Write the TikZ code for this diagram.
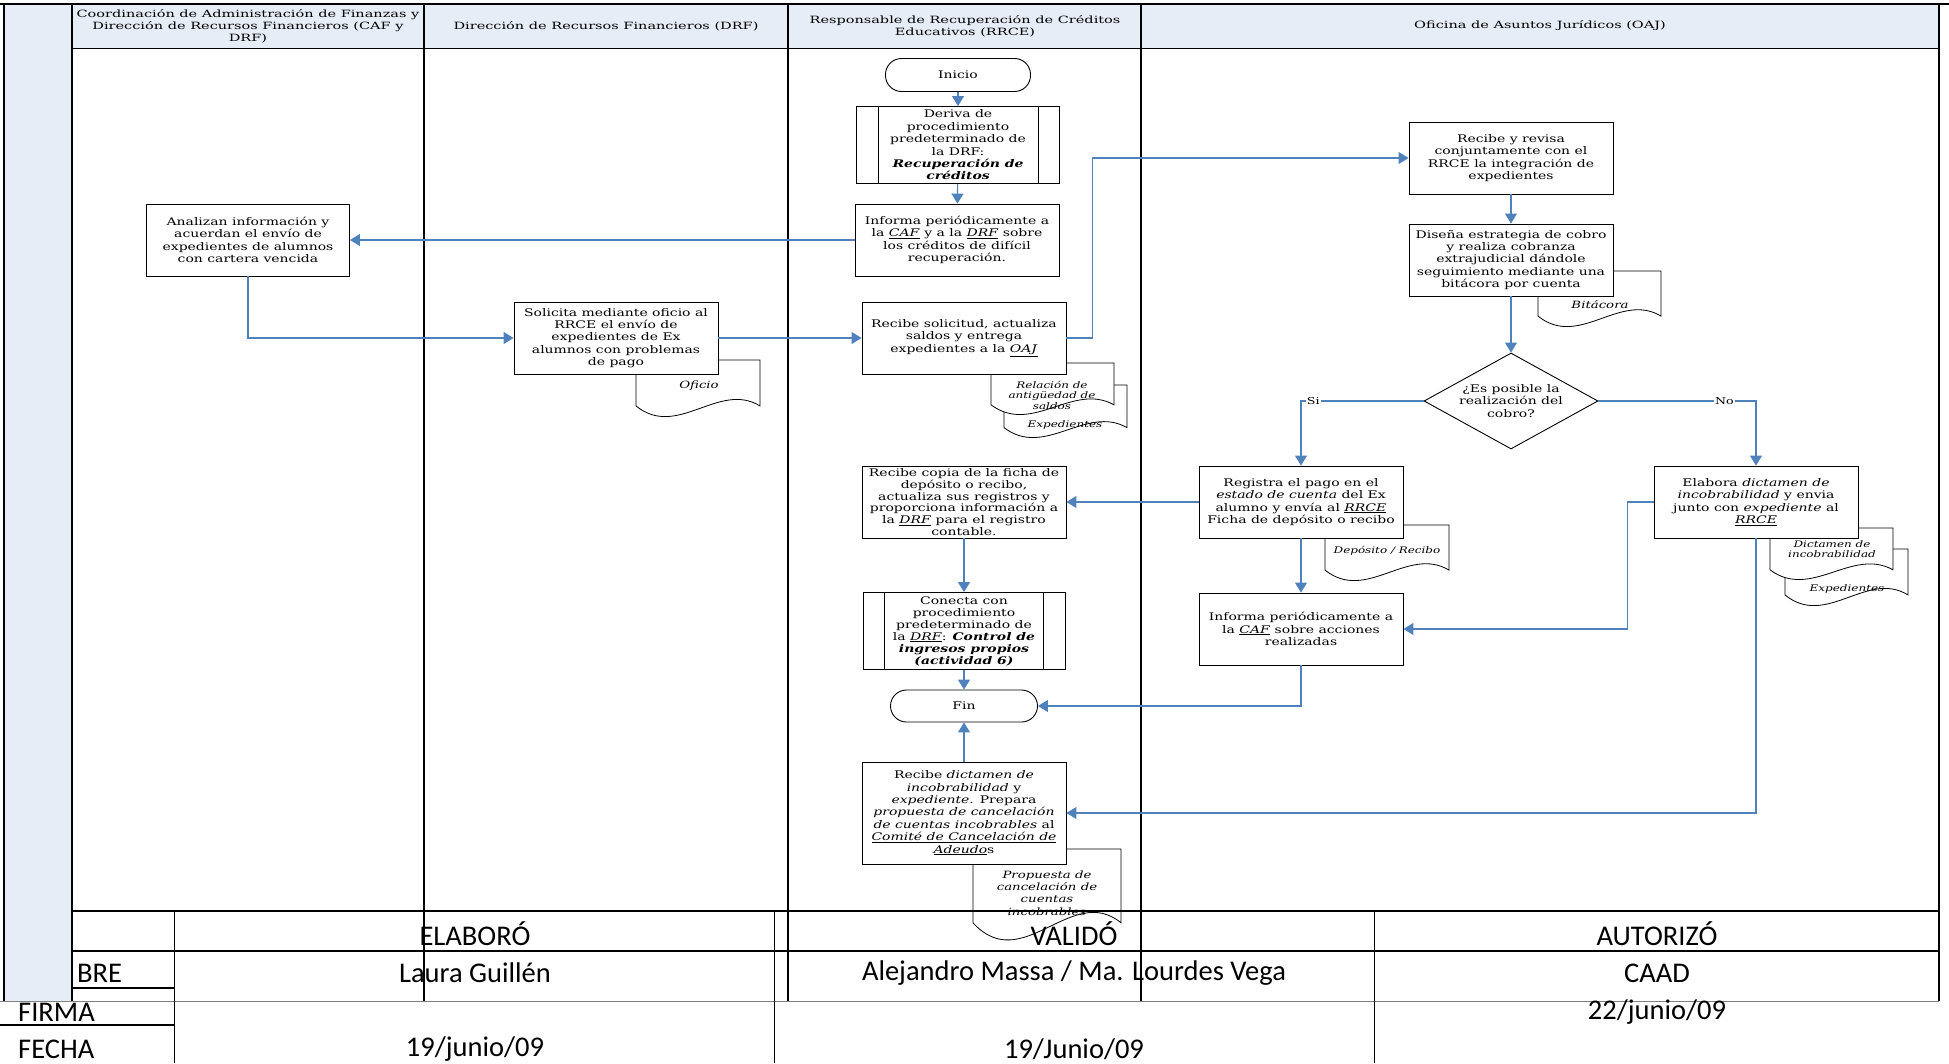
\documentclass[tikz,border=0pt]{standalone}
\usepackage{fontspec}
\usetikzlibrary{arrows.meta,shapes.geometric}
\newfontfamily\boxfont[FakeStretch=1.33]{DejaVu Serif}
\newfontfamily\headfont[FakeStretch=1.45]{DejaVu Serif}
\newfontfamily\signfont{Carlito}
\definecolor{lanefill}{RGB}{230,237,247}
\definecolor{flowblue}{RGB}{79,129,189}

% wavy document sheet: left/top/right/bottom
\newcommand{\docsheet}[4]{%
  \pgfmathsetmacro\docw{#3-#1}%
  \pgfmathsetmacro\doch{#4-#2}%
  \filldraw[docline] (#1,#2) -- (#3,#2) -- (#3,#4-0.18*\doch)
    .. controls (#1+2*\docw/3,#4-0.63*\doch) and (#1+\docw/3,#4+0.42*\doch) .. (#1,#4-0.18*\doch) -- cycle;}

\tikzset{
  laneline/.style={line width=1.4pt},
  lanehead/.style={font=\headfont\fontsize{10}{11.8}\selectfont, align=center},
  proc/.style={draw, line width=0.9pt, fill=white, minimum width=204pt, minimum height=72pt,
    align=center, inner sep=1pt, font=\boxfont\fontsize{10.5}{12.4}\selectfont},
  predef/.style={proc, minimum height=77pt},
  term/.style={proc, rounded corners=16pt, minimum width=145pt, minimum height=33pt},
  decision/.style={proc, diamond, minimum width=174pt, minimum height=96pt, inner xsep=-25pt, inner ysep=-8pt},
  docline/.style={draw=black, fill=white, line width=0.8pt},
  doctext/.style={font=\boxfont\itshape\fontsize{9}{10.5}\selectfont, align=center, inner sep=0pt},
  flow/.style={draw=flowblue, line width=1.1pt, -{Triangle[width=12pt,length=10pt]}},
  lbl/.style={fill=white, inner sep=1pt, font=\boxfont\fontsize{9.5}{10}\selectfont},
  signline/.style={line width=2pt},
  signtext/.style={font=\signfont\fontsize{28.5}{30}\selectfont, inner sep=0pt},
}

\begin{document}
\begin{tikzpicture}[x=1pt,y=-1pt]
  \useasboundingbox (0,0) rectangle (1949,1063);
  % frame and lanes
  \fill[lanefill] (4,4) rectangle (72,1001) (72,4) rectangle (1939,48);
  \draw[line width=2pt] (0,4) -- (1949,4);
  \draw[line width=0.9pt] (72,48) -- (1939,48);
  \draw[laneline] (4,4) -- (4,1001);
  \foreach \x in {72,424,788,1141,1939} {
    \draw[laneline] (\x,4) -- (\x,1001); }
  \foreach \cx/\title [count=\i] in {248/{Coordinación de Administración de Finanzas y\\Dirección de Recursos Financieros (CAF y\\DRF)},
      606/{Dirección de Recursos Financieros (DRF)},
      965/{Responsable de Recuperación de Créditos\\Educativos (RRCE)},
      1540/{Oficina de Asuntos Jurídicos (OAJ)}} {
    \node[lanehead] (head\i) at (\cx,26) {\title};
  }

  % documents (behind the boxes)
  \foreach \xa/\ya/\xb/\yb in {636/360/760/416, 1004/385/1127/437, 991/363/1114/414, 1538/271/1661/326,
      1325/525/1449/580, 1785/549/1908/605, 1770/528/1893/579, 973/849/1121/939} {
    \docsheet{\xa}{\ya}{\xb}{\yb}
  }
  \node[doctext, font=\boxfont\itshape\fontsize{10}{11}\selectfont] (doc-oficio) at (699,386) {Oficio};
  \node[doctext] (doc-saldos) at (1052,395) {Relación de\\antigüedad de\\saldos};
  \node[doctext] (doc-exp1) at (1065,425) {Expedientes};
  \node[doctext, font=\boxfont\itshape\fontsize{10}{11}\selectfont] (doc-bitacora) at (1600,305) {Bitácora};
  \node[doctext] (doc-deposito) at (1387,551) {Depósito / Recibo};
  \node[doctext] (doc-dictamen) at (1832,549) {Dictamen de\\incobrabilidad};
  \node[doctext] (doc-exp2) at (1847,589) {Expedientes};
  \node[doctext, font=\boxfont\itshape\fontsize{10}{12.4}\selectfont] (doc-propuesta) at (1047,893) {Propuesta de\\cancelación de\\cuentas\\incobrables};

  % activities
  \node[term] (ini) at (958,75) {Inicio};
  \node[predef, minimum width=203pt] (der) at (958,145) {Deriva de\\procedimiento\\predeterminado de\\la DRF:\\\textbf{\textit{Recuperación de}}\\\textbf{\textit{créditos}}};
  \draw[line width=0.9pt] ([xshift=22pt]der.north west) -- ([xshift=22pt]der.south west)
    ([xshift=-22pt]der.north east) -- ([xshift=-22pt]der.south east);
  \node[proc] (inf) at (957,240) {Informa periódicamente a\\la \underline{\textit{CAF}} y a la \underline{\textit{DRF}} sobre\\los créditos de difícil\\recuperación.};
  \node[proc, minimum width=203pt] (ana) at (248,240) {Analizan información y\\acuerdan el envío de\\expedientes de alumnos\\con cartera vencida};
  \node[proc] (sol) at (616,338) {Solicita mediante oficio al\\RRCE el envío de\\expedientes de Ex\\alumnos con problemas\\de pago};
  \node[proc] (rec) at (964,338) {Recibe solicitud, actualiza\\saldos y entrega\\expedientes a la \underline{\textit{OAJ}}};
  \node[proc] (rev) at (1511,158) {Recibe y revisa\\conjuntamente con el\\RRCE la integración de\\expedientes};
  \node[proc] (dis) at (1511,260) {Diseña estrategia de cobro\\y realiza cobranza\\extrajudicial dándole\\seguimiento mediante una\\bitácora por cuenta};
  \node[decision] (dec) at (1511,401) {¿Es posible la\\realización del\\cobro?};
  \node[proc] (reg) at (1301,502) {Registra el pago en el\\\textit{estado de cuenta} del Ex\\alumno y envía al \underline{\textit{RRCE}}\\Ficha de depósito o recibo};
  \node[proc] (ela) at (1756,502) {Elabora \textit{dictamen de}\\\textit{incobrabilidad} y envia\\junto con \textit{expediente} al\\\underline{\textit{RRCE}}};
  \node[proc, font=\boxfont\fontsize{10.5}{11.8}\selectfont] (cop) at (964,502) {Recibe copia de la ficha de\\depósito o recibo,\\actualiza sus registros y\\proporciona información a\\la \underline{\textit{DRF}} para el registro\\contable.};
  \node[proc] (caf) at (1301,629) {Informa periódicamente a\\la \underline{\textit{CAF}} sobre acciones\\realizadas};
  \node[predef, minimum width=202pt, font=\boxfont\fontsize{10.5}{12}\selectfont] (con) at (964,631) {Conecta con\\procedimiento\\predeterminado de\\la \underline{\textit{DRF}}: \textbf{\textit{Control de}}\\\textbf{\textit{ingresos propios}}\\\textbf{\textit{(actividad 6)}}};
  \draw[line width=0.9pt] ([xshift=22pt]con.north west) -- ([xshift=22pt]con.south west)
    ([xshift=-22pt]con.north east) -- ([xshift=-22pt]con.south east);
  \node[term, minimum width=147pt, minimum height=32pt] (fin) at (964,706) {Fin};
  \node[proc, minimum height=102pt] (dic) at (964,813) {Recibe \textit{dictamen de}\\\textit{incobrabilidad} y\\\textit{expediente}. Prepara\\\textit{propuesta de cancelación}\\\textit{de cuentas incobrables} al\\\underline{\textit{Comité de Cancelación de}}\\\underline{\textit{Adeudo}}s};

  % connectors
  \draw[flow] (ini) -- (der);
  \draw[flow] (der) -- (inf);
  \draw[flow] (inf) -- (ana);
  \draw[flow] (ana.south) |- (sol.west);
  \draw[flow] (sol) -- (rec);
  \draw[flow] (rec.east) -- ++(26,0) |- (rev.west);
  \draw[flow] (rev) -- (dis);
  \draw[flow] (dis) -- (dec);
  \draw[flow] (dec.west) -| node[lbl, pos=0.45] (si) {Si} (reg.north);
  \draw[flow] (dec.east) -| node[lbl, pos=0.4] (no) {No} (ela.north);
  \draw[flow] (reg) -- (cop);
  \draw[flow] (reg) -- (caf);
  \draw[flow] (ela.west) -- ++(-26,0) |- (caf.east);
  \draw[flow] (ela.south) |- (dic.east);
  \draw[flow] (cop) -- (con);
  \draw[flow] (con) -- (fin);
  \draw[flow] (caf.south) |- (fin.east);
  \draw[flow] (dic) -- (fin);

  % signatures
  \draw[signline] (72,911) -- (1939,911) (72,951) -- (1939,951) (72,988) -- (174,988) (0,1025) -- (174,1025);
  \draw[line width=0.8pt, gray] (0,1001) -- (1939,1001);
  \draw[line width=1pt] (174,911) -- (174,1063) (774,911) -- (774,1063) (1374,911) -- (1374,1063);
  \node[signtext] (elaboro) at (475,934) {ELABORÓ};
  \node[signtext] (valido) at (1074,934) {VALIDÓ};
  \node[signtext] (autorizo) at (1657,934) {AUTORIZÓ};
  \node[signtext, anchor=west] (bre) at (77,973) {BRE};
  \node[signtext] (n-elaboro) at (475,973) {Laura Guillén};
  \node[signtext] (n-valido) at (1074,973) {Alejandro Massa / Ma. Lourdes Vega};
  \node[signtext] (n-autorizo) at (1657,973) {CAAD};
  \node[signtext, anchor=west] (firma) at (18,1012) {FIRMA};
  \node[signtext, anchor=west] (fecha) at (18,1049) {FECHA};
  \node[signtext] (f-elaboro) at (475,1049) {19/junio/09};
  \node[signtext] (f-valido) at (1074,1049) {19/Junio/09};
  \node[signtext] (f-autorizo) at (1657,1012) {22/junio/09};
\end{tikzpicture}
\end{document}
